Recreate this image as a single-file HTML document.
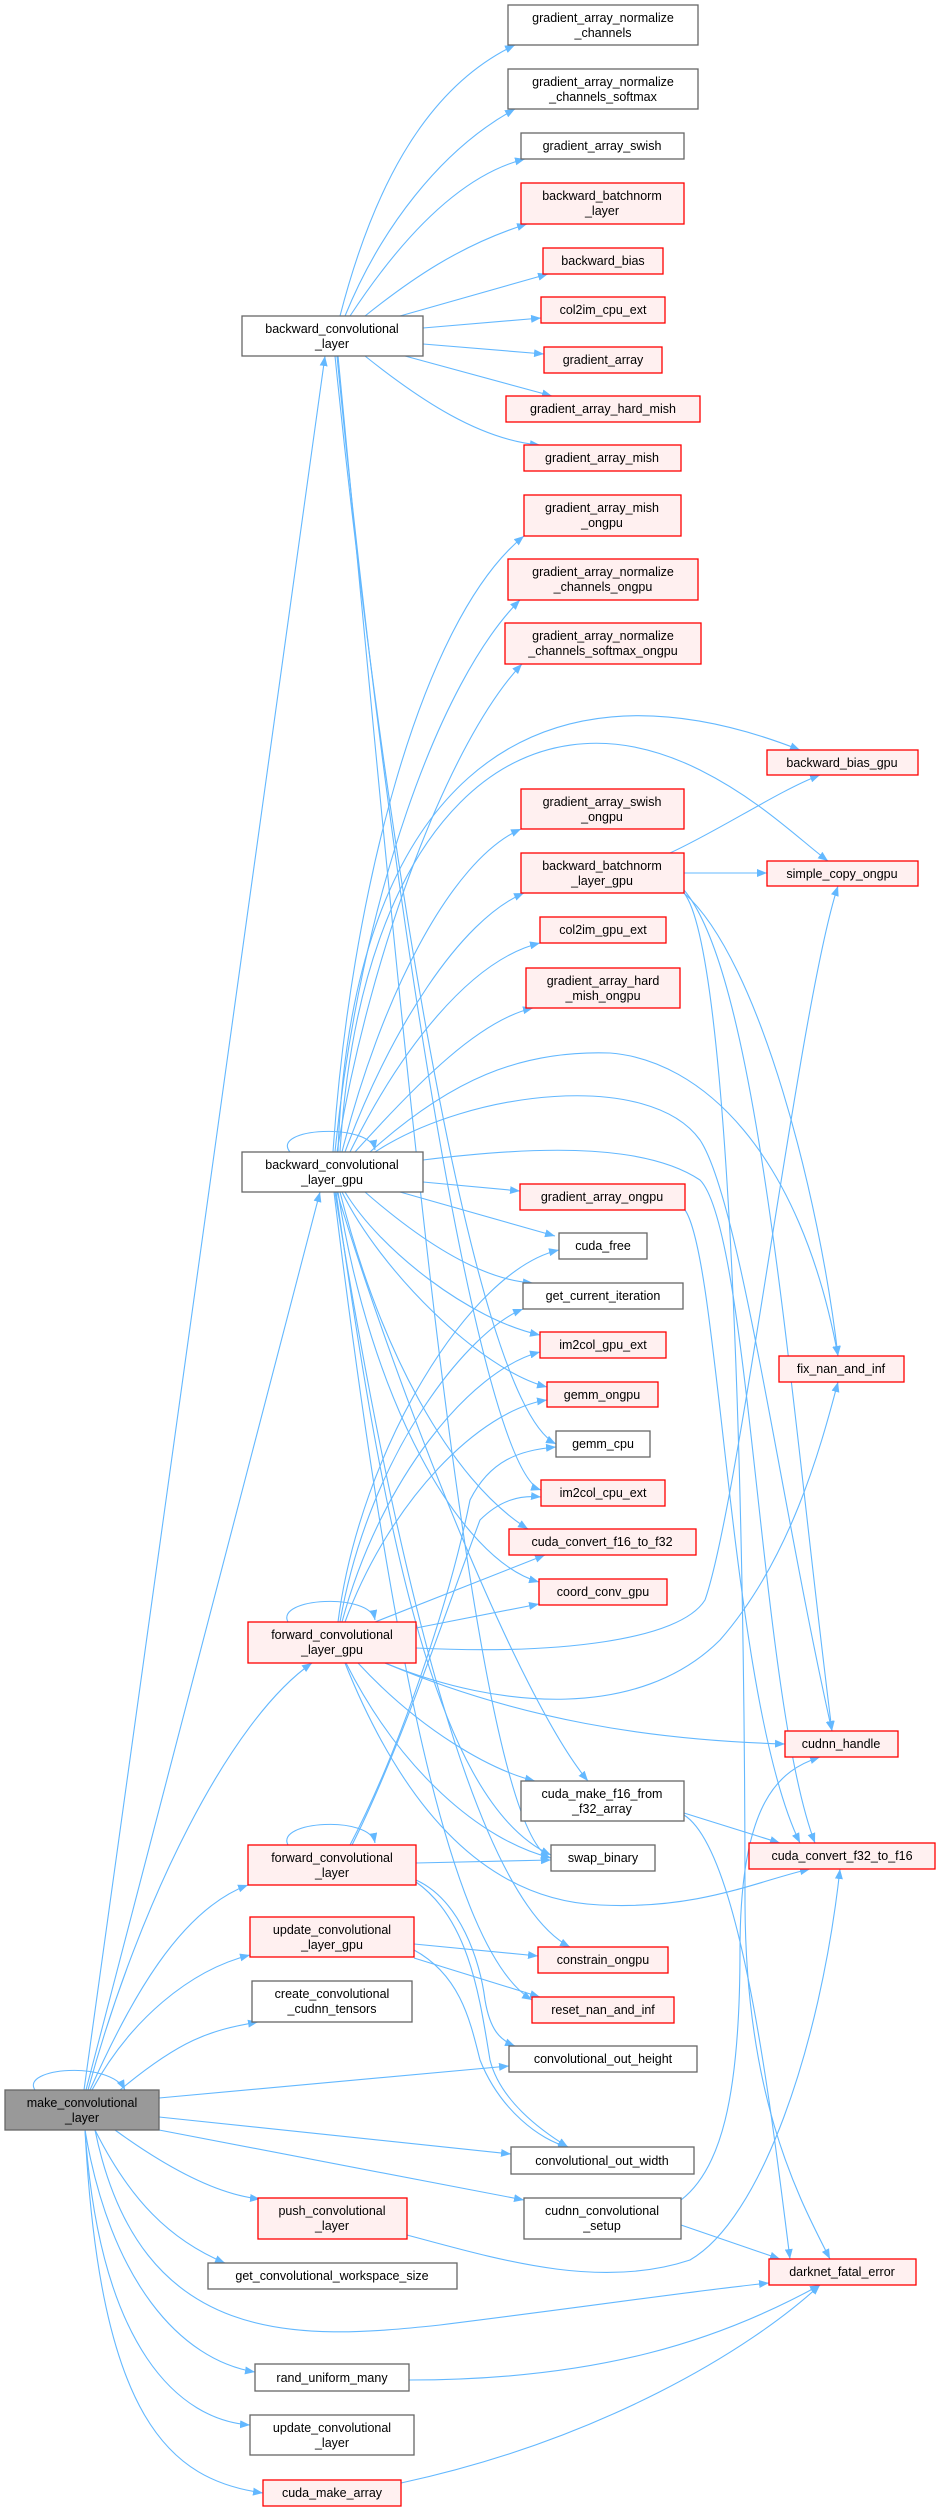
<!DOCTYPE html>
<html><head><meta charset="utf-8"><style>
html,body{margin:0;padding:0;background:#fff;}
svg text{font-family:"Liberation Sans",sans-serif;font-size:12.5px;fill:#000;text-anchor:middle;}
.e{fill:none;stroke:#63b8ff;stroke-width:1.1;marker-end:url(#a);}
.w{fill:#fff;stroke:#666;stroke-width:1.3;}
.r{fill:#fff0f0;stroke:#ff0000;stroke-width:1.3;}
.g{fill:#999;stroke:#666;stroke-width:1.3;}
</style></head><body>
<svg width="936" height="2509" viewBox="0 0 936 2509" xmlns="http://www.w3.org/2000/svg">
<defs><marker id="a" markerUnits="userSpaceOnUse" markerWidth="11" markerHeight="8" refX="10" refY="4" orient="auto"><path d="M0,0 L10,4 L0,8 z" fill="#63b8ff"/></marker></defs>
<g>
<path class="e" d="M340,316 C370,200 420,90 515,45"/>
<path class="e" d="M345,316 C380,230 440,150 515,109"/>
<path class="e" d="M350,316 C400,240 460,175 525,159"/>
<path class="e" d="M365,316 C410,280 460,245 527,224"/>
<path class="e" d="M400,316 L548,274"/>
<path class="e" d="M423,328 L541,318"/>
<path class="e" d="M423,344 L544,354"/>
<path class="e" d="M405,356 L552,396"/>
<path class="e" d="M365,356 C420,400 480,440 540,445"/>
<path class="e" d="M335,356 C380,800 470,1400 556,1444"/>
<path class="e" d="M337,356 C390,900 480,1470 541,1490"/>
<path class="e" d="M338,356 C400,1000 470,1830 551,1858"/>
<path class="e" d="M84,2090 L325,356"/>
<path class="e" d="M86,2090 L320,1192"/>
<path class="e" d="M88,2090 C140,1900 230,1720 312,1663"/>
<path class="e" d="M90,2090 C130,2000 180,1910 248,1885"/>
<path class="e" d="M92,2090 C130,2020 190,1970 250,1955"/>
<path class="e" d="M120,2090 C180,2040 210,2030 258,2022"/>
<path class="e" d="M159,2098 L509,2066"/>
<path class="e" d="M159,2117 L511,2154"/>
<path class="e" d="M159,2130 L524,2200"/>
<path class="e" d="M115,2130 C170,2170 220,2195 260,2199"/>
<path class="e" d="M95,2130 C130,2200 170,2240 225,2263"/>
<path class="e" d="M95,2130 C140,2350 300,2340 440,2325 C600,2305 700,2290 769,2283"/>
<path class="e" d="M85,2130 C110,2280 180,2360 255,2372"/>
<path class="e" d="M85,2130 C100,2350 180,2420 250,2425"/>
<path class="e" d="M85,2130 C100,2420 170,2480 263,2493"/>
<path class="e" d="M35,2090 C20,2068 110,2060 125,2090"/>
<path class="e" d="M333,1152 C350,900 420,620 524,536"/>
<path class="e" d="M335,1152 C360,900 440,680 520,600"/>
<path class="e" d="M337,1152 C370,950 450,740 522,664"/>
<path class="e" d="M338,1152 C350,800 520,640 800,750"/>
<path class="e" d="M340,1152 C360,820 520,680 700,770 C760,800 800,840 828,861"/>
<path class="e" d="M342,1152 C380,1000 450,860 521,829"/>
<path class="e" d="M345,1152 C390,1030 460,920 524,893"/>
<path class="e" d="M350,1152 C400,1050 470,960 540,943"/>
<path class="e" d="M355,1152 C420,1080 480,1020 533,1008"/>
<path class="e" d="M370,1152 C450,1080 520,1050 610,1053 C700,1060 800,1150 838,1356"/>
<path class="e" d="M375,1152 C470,1090 650,1070 700,1140 C740,1200 780,1500 832,1731"/>
<path class="e" d="M423,1160 C520,1148 640,1140 700,1180 C750,1230 760,1700 815,1843"/>
<path class="e" d="M290,1152 C270,1128 370,1122 375,1150"/>
<path class="e" d="M423,1182 L520,1191"/>
<path class="e" d="M400,1192 L555,1236"/>
<path class="e" d="M365,1192 C420,1240 480,1280 533,1283"/>
<path class="e" d="M345,1192 C380,1250 470,1320 540,1335"/>
<path class="e" d="M342,1192 C380,1270 480,1370 547,1387"/>
<path class="e" d="M340,1192 C380,1350 450,1480 528,1529"/>
<path class="e" d="M338,1192 C370,1400 460,1560 539,1582"/>
<path class="e" d="M337,1192 C400,1400 520,1700 588,1781"/>
<path class="e" d="M336,1192 C380,1500 430,1800 551,1855"/>
<path class="e" d="M335,1192 C400,1600 480,1900 570,1947"/>
<path class="e" d="M334,1192 C390,1650 450,1950 532,2000"/>
<path class="e" d="M685,1210 C720,1260 730,1700 800,1843"/>
<path class="e" d="M670,853 C720,830 780,790 820,775"/>
<path class="e" d="M684,873 L767,873"/>
<path class="e" d="M684,893 C760,960 820,1200 838,1356"/>
<path class="e" d="M684,893 C730,950 745,1500 745,1900 C745,2100 800,2200 830,2259"/>
<path class="e" d="M684,890 C760,980 790,1400 832,1731"/>
<path class="e" d="M288,1622 C275,1598 370,1592 375,1620"/>
<path class="e" d="M338,1622 C360,1450 470,1270 559,1250"/>
<path class="e" d="M340,1622 C370,1450 470,1330 523,1309"/>
<path class="e" d="M342,1622 C380,1480 470,1370 540,1352"/>
<path class="e" d="M345,1622 C390,1500 480,1410 547,1400"/>
<path class="e" d="M375,1622 L545,1555"/>
<path class="e" d="M416,1628 L539,1604"/>
<path class="e" d="M416,1648 C560,1655 680,1640 705,1600 C740,1500 800,1000 838,886"/>
<path class="e" d="M385,1663 C500,1710 640,1720 720,1640 C790,1560 820,1450 838,1382"/>
<path class="e" d="M385,1663 C520,1720 650,1740 785,1744"/>
<path class="e" d="M358,1663 C420,1730 490,1770 535,1781"/>
<path class="e" d="M346,1663 C400,1770 480,1840 551,1858"/>
<path class="e" d="M345,1663 C400,1800 480,1900 600,1905 C700,1910 760,1880 810,1869"/>
<path class="e" d="M288,1845 C275,1821 370,1815 375,1843"/>
<path class="e" d="M350,1845 C400,1750 450,1600 470,1500 C490,1460 520,1450 556,1447"/>
<path class="e" d="M352,1845 C400,1750 450,1600 480,1520 C500,1500 520,1495 541,1497"/>
<path class="e" d="M416,1863 L551,1860"/>
<path class="e" d="M416,1880 C460,1900 480,1960 485,2000 C490,2030 500,2040 515,2046"/>
<path class="e" d="M416,1882 C470,1920 480,2000 490,2060 C500,2100 540,2130 568,2147"/>
<path class="e" d="M414,1944 L538,1956"/>
<path class="e" d="M414,1958 L540,1997"/>
<path class="e" d="M414,1950 C460,1975 470,2020 480,2060 C500,2110 540,2140 568,2147"/>
<path class="e" d="M681,2200 C720,2170 740,2100 740,1950 C740,1800 780,1770 820,1757"/>
<path class="e" d="M681,2225 L780,2259"/>
<path class="e" d="M407,2235 C500,2260 600,2290 690,2260 C760,2220 820,2050 840,1869"/>
<path class="e" d="M684,1813 L780,1843"/>
<path class="e" d="M684,1815 C740,1850 770,2100 790,2259"/>
<path class="e" d="M409,2380 C600,2380 720,2340 820,2285"/>
<path class="e" d="M401,2483 C600,2440 750,2350 820,2285"/>
</g>
<g>
<rect class="w" x="508" y="5" width="190" height="40"/><text x="603" y="22">gradient_array_normalize</text><text x="603" y="37">_channels</text>
<rect class="w" x="508" y="69" width="190" height="40"/><text x="603" y="86">gradient_array_normalize</text><text x="603" y="101">_channels_softmax</text>
<rect class="w" x="521" y="133" width="163" height="26"/><text x="602" y="150">gradient_array_swish</text>
<rect class="r" x="521" y="183" width="163" height="41"/><text x="602" y="200">backward_batchnorm</text><text x="602" y="215">_layer</text>
<rect class="r" x="543" y="248" width="120" height="26"/><text x="603" y="265">backward_bias</text>
<rect class="r" x="541" y="297" width="124" height="26"/><text x="603" y="314">col2im_cpu_ext</text>
<rect class="r" x="544" y="347" width="118" height="26"/><text x="603" y="364">gradient_array</text>
<rect class="r" x="506" y="396" width="194" height="26"/><text x="603" y="413">gradient_array_hard_mish</text>
<rect class="r" x="524" y="445" width="157" height="26"/><text x="602" y="462">gradient_array_mish</text>
<rect class="r" x="524" y="495" width="157" height="41"/><text x="602" y="512">gradient_array_mish</text><text x="602" y="527">_ongpu</text>
<rect class="r" x="508" y="559" width="190" height="41"/><text x="603" y="576">gradient_array_normalize</text><text x="603" y="591">_channels_ongpu</text>
<rect class="r" x="505" y="623" width="196" height="41"/><text x="603" y="640">gradient_array_normalize</text><text x="603" y="655">_channels_softmax_ongpu</text>
<rect class="w" x="242" y="316" width="181" height="40"/><text x="332" y="333">backward_convolutional</text><text x="332" y="348">_layer</text>
<rect class="r" x="767" y="750" width="151" height="25"/><text x="842" y="767">backward_bias_gpu</text>
<rect class="r" x="521" y="789" width="163" height="40"/><text x="602" y="806">gradient_array_swish</text><text x="602" y="821">_ongpu</text>
<rect class="r" x="521" y="853" width="163" height="40"/><text x="602" y="870">backward_batchnorm</text><text x="602" y="885">_layer_gpu</text>
<rect class="r" x="767" y="861" width="151" height="25"/><text x="842" y="878">simple_copy_ongpu</text>
<rect class="r" x="540" y="917" width="126" height="26"/><text x="603" y="934">col2im_gpu_ext</text>
<rect class="r" x="526" y="968" width="154" height="40"/><text x="603" y="985">gradient_array_hard</text><text x="603" y="1000">_mish_ongpu</text>
<rect class="w" x="242" y="1152" width="181" height="40"/><text x="332" y="1169">backward_convolutional</text><text x="332" y="1184">_layer_gpu</text>
<rect class="r" x="520" y="1184" width="165" height="26"/><text x="602" y="1201">gradient_array_ongpu</text>
<rect class="w" x="559" y="1233" width="88" height="26"/><text x="603" y="1250">cuda_free</text>
<rect class="w" x="523" y="1283" width="160" height="26"/><text x="603" y="1300">get_current_iteration</text>
<rect class="r" x="540" y="1332" width="126" height="26"/><text x="603" y="1349">im2col_gpu_ext</text>
<rect class="r" x="779" y="1356" width="125" height="26"/><text x="841" y="1373">fix_nan_and_inf</text>
<rect class="r" x="547" y="1382" width="111" height="25"/><text x="602" y="1399">gemm_ongpu</text>
<rect class="w" x="556" y="1431" width="94" height="26"/><text x="603" y="1448">gemm_cpu</text>
<rect class="r" x="541" y="1480" width="124" height="26"/><text x="603" y="1497">im2col_cpu_ext</text>
<rect class="r" x="509" y="1529" width="187" height="26"/><text x="602" y="1546">cuda_convert_f16_to_f32</text>
<rect class="r" x="539" y="1579" width="128" height="26"/><text x="603" y="1596">coord_conv_gpu</text>
<rect class="r" x="248" y="1622" width="168" height="41"/><text x="332" y="1639">forward_convolutional</text><text x="332" y="1654">_layer_gpu</text>
<rect class="r" x="785" y="1731" width="113" height="26"/><text x="841" y="1748">cudnn_handle</text>
<rect class="w" x="521" y="1781" width="163" height="40"/><text x="602" y="1798">cuda_make_f16_from</text><text x="602" y="1813">_f32_array</text>
<rect class="r" x="749" y="1843" width="186" height="26"/><text x="842" y="1860">cuda_convert_f32_to_f16</text>
<rect class="w" x="551" y="1845" width="104" height="26"/><text x="603" y="1862">swap_binary</text>
<rect class="r" x="248" y="1845" width="168" height="40"/><text x="332" y="1862">forward_convolutional</text><text x="332" y="1877">_layer</text>
<rect class="r" x="250" y="1917" width="164" height="40"/><text x="332" y="1934">update_convolutional</text><text x="332" y="1949">_layer_gpu</text>
<rect class="r" x="538" y="1947" width="130" height="26"/><text x="603" y="1964">constrain_ongpu</text>
<rect class="w" x="252" y="1981" width="160" height="41"/><text x="332" y="1998">create_convolutional</text><text x="332" y="2013">_cudnn_tensors</text>
<rect class="r" x="532" y="1997" width="142" height="26"/><text x="603" y="2014">reset_nan_and_inf</text>
<rect class="w" x="509" y="2046" width="188" height="26"/><text x="603" y="2063">convolutional_out_height</text>
<rect class="g" x="5" y="2090" width="154" height="40"/><text x="82" y="2107">make_convolutional</text><text x="82" y="2122">_layer</text>
<rect class="w" x="511" y="2147" width="183" height="27"/><text x="602" y="2165">convolutional_out_width</text>
<rect class="r" x="258" y="2198" width="149" height="41"/><text x="332" y="2215">push_convolutional</text><text x="332" y="2230">_layer</text>
<rect class="w" x="524" y="2198" width="157" height="41"/><text x="602" y="2215">cudnn_convolutional</text><text x="602" y="2230">_setup</text>
<rect class="r" x="769" y="2259" width="147" height="26"/><text x="842" y="2276">darknet_fatal_error</text>
<rect class="w" x="208" y="2263" width="249" height="26"/><text x="332" y="2280">get_convolutional_workspace_size</text>
<rect class="w" x="255" y="2364" width="154" height="27"/><text x="332" y="2382">rand_uniform_many</text>
<rect class="w" x="250" y="2415" width="164" height="40"/><text x="332" y="2432">update_convolutional</text><text x="332" y="2447">_layer</text>
<rect class="r" x="263" y="2480" width="138" height="26"/><text x="332" y="2497">cuda_make_array</text>
</g>
</svg>
</body></html>
